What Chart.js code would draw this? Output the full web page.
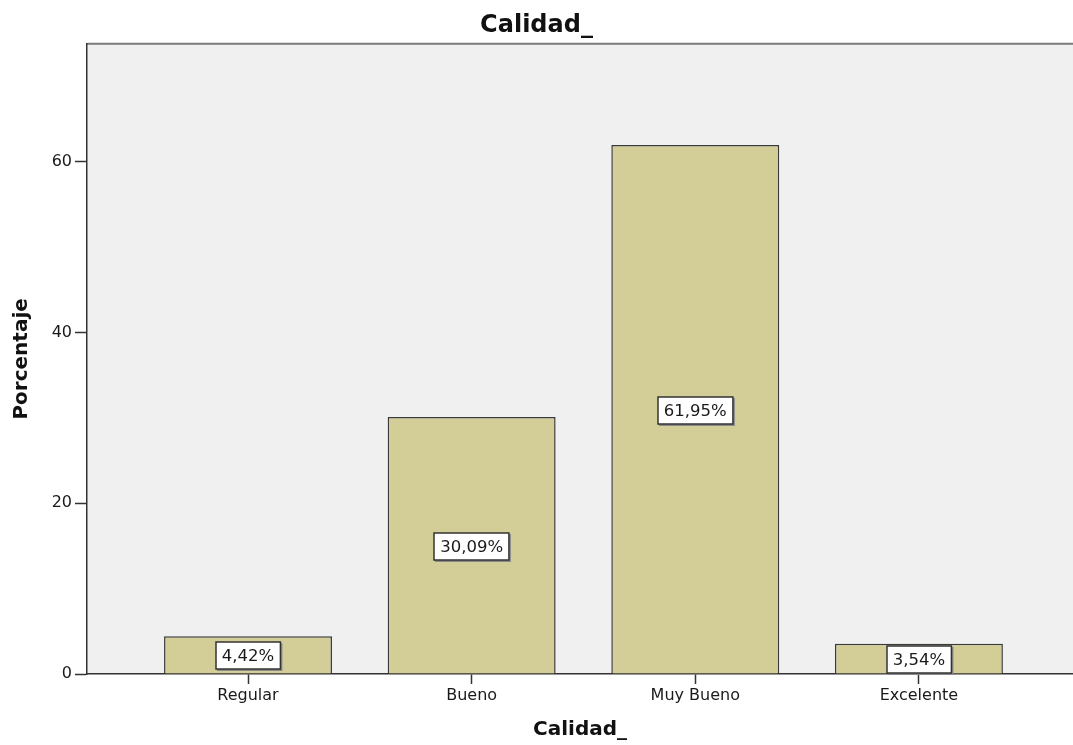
<!DOCTYPE html>
<html>
<head>
<meta charset="utf-8">
<script src="https://cdn.jsdelivr.net/npm/chart.js@4/dist/chart.umd.min.js"></script>
<style>
  html, body { margin: 0; padding: 0; background: #ffffff; overflow: hidden; }
  #wrap { width: 1073px; height: 745px; }
</style>
</head>
<body>
<div id="wrap"><canvas id="c" width="1073" height="745"></canvas></div>
<script>
// ---- data ----
const categories = ["Regular", "Bueno", "Muy Bueno", "Excelente"];
const percentages = [4.42, 30.09, 61.95, 3.54];
const valueLabels = ["4,42%", "30,09%", "61,95%", "3,54%"];
const yTicks = [0, 20, 40, 60];
const chartTitle = "Calidad_";
const xTitle = "Calidad_";
const yTitle = "Porcentaje";

const FONT = "'DejaVu Sans', 'Liberation Sans', sans-serif";

const plotBg = {
  id: 'plotBg',
  beforeDraw(chart) {
    const {ctx, chartArea: a} = chart;
    ctx.save();
    ctx.fillStyle = '#f0f0f0';
    ctx.fillRect(a.left, a.top, a.right - a.left, a.bottom - a.top);
    ctx.strokeStyle = '#7a7a7a';
    ctx.lineWidth = 2;
    ctx.beginPath();
    ctx.moveTo(a.left, a.top);
    ctx.lineTo(a.right, a.top);
    ctx.stroke();
    ctx.restore();
  }
};

const boxLabels = {
  id: 'boxLabels',
  afterDatasetsDraw(chart) {
    const {ctx} = chart;
    const meta = chart.getDatasetMeta(0);
    ctx.save();
    ctx.font = "16.5px " + FONT;
    ctx.textAlign = 'center';
    ctx.textBaseline = 'middle';
    meta.data.forEach((bar, i) => {
      const txt = valueLabels[i];
      const cx = bar.x;
      const cy = (bar.y + bar.base) / 2 + 1;
      const w = ctx.measureText(txt).width + 12;
      const h = 27;
      const x0 = Math.round(cx - w / 2), y0 = Math.round(cy - h / 2);
      ctx.fillStyle = '#8a8a8a';
      ctx.fillRect(x0 + 1, y0 + 1, w + 1, h + 1);
      ctx.fillStyle = '#ffffff';
      ctx.fillRect(x0, y0, w, h);
      ctx.strokeStyle = '#333333';
      ctx.lineWidth = 1.5;
      ctx.strokeRect(x0, y0, w, h);
      ctx.fillStyle = '#1a1a1a';
      ctx.fillText(txt, cx, cy + 1);
    });
    ctx.restore();
  }
};

new Chart(document.getElementById('c'), {
  type: 'bar',
  data: {
    datasets: [{
      data: percentages.map((v, i) => ({x: i, y: v})),
      backgroundColor: '#d3ce97',
      borderColor: '#3a3a3a',
      borderWidth: 1.5,
      borderSkipped: 'bottom',
      barPercentage: 0.751,
      categoryPercentage: 1.0
    }]
  },
  options: {
    responsive: false,
    devicePixelRatio: 1,
    animation: false,
    layout: { padding: { left: 0, right: 0, top: 0, bottom: 0 } },
    plugins: {
      legend: { display: false },
      tooltip: { enabled: false },
      title: {
        display: true,
        text: chartTitle,
        color: '#111111',
        font: { family: FONT, size: 24, weight: 'bold', lineHeight: 1.2 },
        padding: { top: 11, bottom: 4 }
      }
    },
    scales: {
      x: {
        type: 'linear',
        min: -0.72,
        max: 3.689,
        offset: false,
        afterFit(s) { s.height = 71; },
        afterBuildTicks(s) { s.ticks = categories.map((_, i) => ({value: i})); },
        grid: { display: true, drawOnChartArea: false, drawTicks: true, tickLength: 10, tickColor: '#333333', tickWidth: 1.5, offset: false },
        border: { display: true, color: '#333333', width: 1.5 },
        ticks: {
          color: '#1a1a1a',
          font: { family: FONT, size: 16 },
          padding: 2,
          maxRotation: 0,
          autoSkip: false,
          callback: (v) => categories[v] ?? ''
        },
        title: {
          display: true,
          text: xTitle,
          color: '#111111',
          font: { family: FONT, size: 20, weight: 'bold', lineHeight: 1.2 },
          padding: { top: 0, bottom: 3 }
        }
      },
      y: {
        min: 0,
        max: 73.8,
        afterFit(s) { s.width = 87; },
        afterBuildTicks(s) { s.ticks = yTicks.map(v => ({value: v})); },
        grid: { display: true, drawOnChartArea: false, drawTicks: true, tickLength: 12, tickColor: '#333333', tickWidth: 1.5 },
        border: { display: true, color: '#333333', width: 1.5 },
        ticks: {
          color: '#1a1a1a',
          font: { family: FONT, size: 16 },
          padding: 3
        },
        title: {
          display: true,
          text: yTitle,
          color: '#111111',
          font: { family: FONT, size: 20, weight: 'bold', lineHeight: 1.2 },
          padding: { top: 10, bottom: 0 }
        }
      }
    }
  },
  plugins: [plotBg, boxLabels]
});
</script>
</body>
</html>
